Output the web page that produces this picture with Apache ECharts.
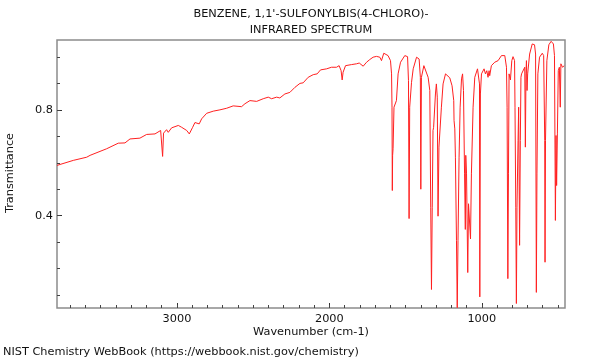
<!DOCTYPE html>
<html>
<head>
<meta charset="utf-8">
<script src="https://cdn.jsdelivr.net/npm/echarts@6/dist/echarts.min.js"></script>
<style>
html,body{margin:0;padding:0;background:#fff;}
#chart{width:600px;height:360px;}
</style>
</head>
<body>
<div id="chart"></div>
<script>
// Wavenumber (cm-1), descending
var wavenumbers = [
3787,3680,3592,3582,3570,3461,3385,3341,3308,3243,3199,3144,3107,3100,3094,3088,3068,3057,3035,2991,
2969,2936,2919,2897,2882,2854,2838,2805,2762,2718,2674,2631,2576,2554,2521,2477,2434,2401,2379,2346,
2325,2292,2259,2226,2193,2172,2139,2106,2080,2058,2018,1986,1953,1936,1923,1916,1910,1894,1855,1822,
1804,1778,1756,1735,1713,1691,1669,1658,1643,1615,1599,1592,1589,1587,1585,1582,1576,1560,1549,1533,
1505,1487,1481,1477,1473,1461,1450,1428,1411,1403,1400,1396,1380,1367,1352,1341,1335,1330,1325,1320,
1316,1304,1298,1292,1287,1281,1265,1254,1238,1232,1210,1195,1184,1182,1177,1173,1166,1161,1156,1149,
1142,1133,1126,1120,1113,1108,1105,1100,1092,1087,1081,1074,1068,1057,1046,1028,1020,1015,1013,1009,
1002,985,976,967,959,952,948,937,915,893,871,864,849,838,834,829,825,821,816,812,
803,795,785,782,777,773,769,762,758,752,747,743,739,730,726,718,714,710,707,703,
699,686,669,654,647,642,638,632,621,603,594,587,585,582,573,560,545,530,523,517,
513,509,504,498,491,485,481,470,459
];
// Transmittance
var transmittance = [
0.590,0.609,0.621,0.615,0.628,0.653,0.674,0.675,0.690,0.693,0.707,0.709,0.722,0.720,0.624,0.712,0.725,0.715,0.732,0.741,
0.734,0.722,0.709,0.734,0.752,0.747,0.766,0.787,0.795,0.800,0.806,0.815,0.812,0.823,0.835,0.832,0.842,0.848,0.842,0.848,
0.845,0.860,0.866,0.885,0.900,0.902,0.923,0.933,0.936,0.951,0.955,0.961,0.961,0.967,0.948,0.913,0.942,0.967,0.971,0.974,
0.977,0.965,0.980,0.990,0.999,1.002,0.999,0.986,1.014,1.005,0.986,0.936,0.810,0.495,0.628,0.653,0.810,0.835,0.936,0.980,
1.005,1.001,0.911,0.389,0.810,0.904,0.955,0.999,0.992,0.923,0.500,0.923,0.967,0.971,0.923,0.873,0.432,0.121,0.432,0.722,
0.734,0.860,0.898,0.848,0.398,0.659,0.810,0.898,0.936,0.938,0.921,0.891,0.835,0.760,0.728,0.621,0.307,0.052,0.307,0.621,
0.810,0.917,0.936,0.873,0.558,0.348,0.628,0.558,0.185,0.445,0.445,0.312,0.558,0.810,0.923,0.955,0.955,0.898,0.093,0.860,
0.936,0.955,0.936,0.948,0.923,0.948,0.929,0.967,0.980,0.986,1.005,1.011,1.005,0.961,0.810,0.162,0.558,0.936,0.930,0.913,
0.986,1.001,0.986,0.810,0.432,0.068,0.432,0.684,0.810,0.288,0.684,0.923,0.936,0.929,0.942,0.961,0.659,0.936,0.986,0.873,
0.936,1.011,1.049,1.046,1.011,0.110,0.558,0.936,0.999,1.014,1.005,0.684,0.224,0.684,0.986,1.046,1.059,1.049,1.005,0.382,
0.703,0.514,0.709,0.948,0.961,0.810,0.974,0.961,0.967
];
var xLabelTicks = [1000, 2000, 3000];
var xMinorTicks = [500,600,700,800,900,1000,1100,1200,1300,1400,1500,1600,1700,1800,1900,2000,2100,2200,2300,2400,2500,2600,2700,2800,2900,3000,3100,3200,3300,3400,3500,3600,3700];
var yLabelTicks = [0.4, 0.8];
var yMinorTicks = [0.1,0.2,0.3,0.4,0.5,0.6,0.7,0.8,0.9,1.0];
var titleLines = ["BENZENE, 1,1'-SULFONYLBIS(4-CHLORO)-", "INFRARED SPECTRUM"];
var xTitle = "Wavenumber (cm-1)";
var yTitle = "Transmittance";
var footer = "NIST Chemistry WebBook (https://webbook.nist.gov/chemistry)";

var seriesData = wavenumbers.map(function (w, i) { return [w, transmittance[i]]; });

var FONT = 'DejaVu Sans';
var FS = 11.3;
var xMin = 454, xMax = 3787, yMin = 0.051, yMax = 1.064;

var chart = echarts.init(document.getElementById('chart'), null, {renderer: 'canvas'});
chart.setOption({
  animation: false,
  backgroundColor: '#ffffff',
  grid: {left: 57, right: 35, top: 40, bottom: 52, show: true, borderColor: '#8c8c8c', borderWidth: 1.5, backgroundColor: 'transparent'},
  xAxis: [
    {type: 'value', min: xMin, max: xMax, inverse: true, position: 'bottom',
     axisLine: {show: false}, splitLine: {show: false},
     axisTick: {show: true, inside: true, length: 5, customValues: xLabelTicks, lineStyle: {color: '#333', width: 1}},
     axisLabel: {show: true, customValues: xLabelTicks, margin: 6, color: '#111', fontFamily: FONT, fontSize: FS,
                 formatter: function (v) { return String(Math.round(v)); }}},
    {type: 'value', min: xMin, max: xMax, inverse: true, position: 'bottom',
     axisLine: {show: false}, splitLine: {show: false},
     axisTick: {show: true, inside: true, length: 3, customValues: xMinorTicks, lineStyle: {color: '#444', width: 1}},
     axisLabel: {show: false}}
  ],
  yAxis: [
    {type: 'value', min: yMin, max: yMax, position: 'left',
     axisLine: {show: false}, splitLine: {show: false},
     axisTick: {show: true, inside: true, length: 5, customValues: yLabelTicks, lineStyle: {color: '#333', width: 1}},
     axisLabel: {show: true, customValues: yLabelTicks, margin: 4, color: '#111', fontFamily: FONT, fontSize: FS,
                 formatter: function (v) { return v.toFixed(1); }}},
    {type: 'value', min: yMin, max: yMax, position: 'left',
     axisLine: {show: false}, splitLine: {show: false},
     axisTick: {show: true, inside: true, length: 3, customValues: yMinorTicks, lineStyle: {color: '#444', width: 1}},
     axisLabel: {show: false}}
  ],
  series: [{
    type: 'line', xAxisIndex: 0, yAxisIndex: 0, data: seriesData,
    showSymbol: false, symbol: 'none', smooth: false, clip: true,
    lineStyle: {color: '#ff2020', width: 1}
  }],
  graphic: [
    {type: 'text', x: 311, y: 14, style: {text: titleLines[0], fill: '#111', font: FS + 'px "' + FONT + '"', textAlign: 'center', textVerticalAlign: 'middle'}},
    {type: 'text', x: 311, y: 30, style: {text: titleLines[1], fill: '#111', font: FS + 'px "' + FONT + '"', textAlign: 'center', textVerticalAlign: 'middle'}},
    {type: 'text', x: 311, y: 332, style: {text: xTitle, fill: '#111', font: FS + 'px "' + FONT + '"', textAlign: 'center', textVerticalAlign: 'middle'}},
    {type: 'text', x: 10, y: 173, rotation: Math.PI / 2, style: {text: yTitle, fill: '#111', font: FS + 'px "' + FONT + '"', textAlign: 'center', textVerticalAlign: 'middle'}},
    {type: 'text', x: 3, y: 352, style: {text: footer, fill: '#111', font: FS + 'px "' + FONT + '"', textAlign: 'left', textVerticalAlign: 'middle'}}
  ]
});
</script>
</body>
</html>
